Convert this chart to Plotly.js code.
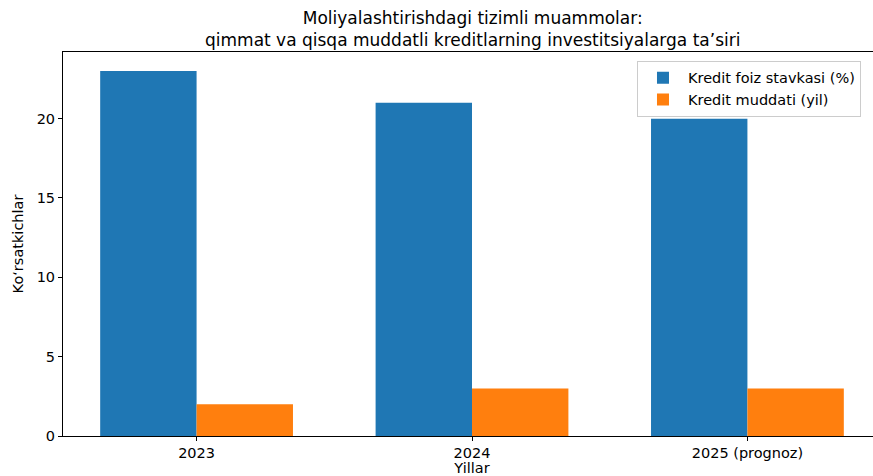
<!DOCTYPE html>
<html><head><meta charset="utf-8">
<script src="https://cdn.plot.ly/plotly-3.0.1.min.js"></script>
<style>html,body{margin:0;padding:0;overflow:hidden;background:#fff}</style>
</head><body><div id="chart"></div>
<script>
const categories = ["2023", "2024", "2025 (prognoz)"];
const rateValues = [23, 21, 20];
const termValues = [2, 3, 3];
const seriesNames = ["Kredit foiz stavkasi (%)", "Kredit muddati (yil)"];
const titleLines = ["Moliyalashtirishdagi tizimli muammolar:", "qimmat va qisqa muddatli kreditlarning investitsiyalarga ta’siri"];

const font = {family: "DejaVu Sans", color: "#000"};
const data = [
  {type: "bar", x: categories, y: rateValues, name: seriesNames[0], marker: {color: "#1f77b4"}},
  {type: "bar", x: categories, y: termValues, name: seriesNames[1], marker: {color: "#ff7f0e"}}
];
const layout = {
  width: 885, height: 476,
  margin: {l: 63, r: 4, t: 52, b: 40},
  paper_bgcolor: "#fff", plot_bgcolor: "#fff",
  font: Object.assign({size: 14.5}, font),
  barmode: "group", bargap: 0.3, bargroupgap: 0,
  annotations: [
    {text: titleLines.join("<br>"), xref: "paper", yref: "paper", x: 0.5, y: 1.0586,
     xanchor: "center", yanchor: "middle", borderpad: 0,
     showarrow: false, font: Object.assign({size: 17}, font)}
  ],
  xaxis: {type: "category", range: [-0.485, 2.485], showgrid: false, zeroline: false,
          showline: true, linecolor: "#000", linewidth: 1, mirror: true,
          ticks: "outside", ticklen: 4, tickcolor: "#000",
          tickfont: {size: 14.5}, title: {text: "Yillar", font: {size: 14.5}, standoff: 5}},
  yaxis: {range: [0, 24.2], tickvals: [0, 5, 10, 15, 20], showgrid: false, zeroline: false,
          showline: true, linecolor: "#000", linewidth: 1, mirror: true,
          ticks: "outside", ticklen: 4, tickcolor: "#000",
          tickfont: {size: 14.5}, title: {text: "Ko‘rsatkichlar", font: {size: 14.5}, standoff: 9}},
  legend: {x: 0.7017, y: 0.977, xanchor: "left", yanchor: "top", bgcolor: "rgba(255,255,255,0.8)",
           bordercolor: "#ccc", borderwidth: 1, font: {size: 14.5}, itemwidth: 40, tracegroupgap: 0},
  showlegend: true
};
Plotly.newPlot("chart", data, layout, {displayModeBar: false});
</script></body></html>
